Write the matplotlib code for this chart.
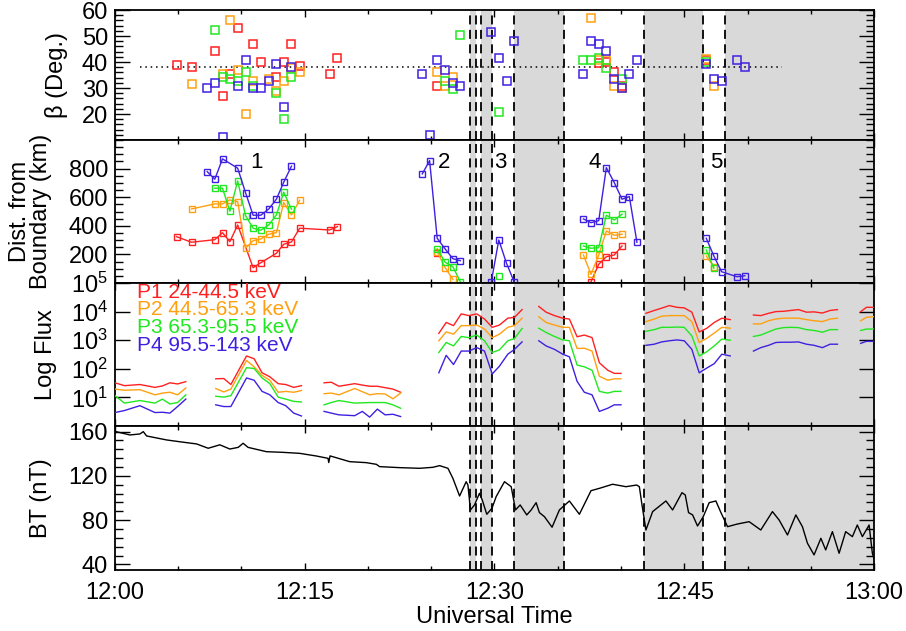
import numpy as np
import matplotlib
matplotlib.use('Agg')
import matplotlib.pyplot as plt
from matplotlib.ticker import MultipleLocator, FixedLocator, LogLocator, NullFormatter

plt.rcParams['font.family'] = ['Liberation Sans', 'DejaVu Sans']
plt.rcParams['mathtext.fontset'] = 'custom'
plt.rcParams['mathtext.rm'] = 'Liberation Sans'
plt.rcParams['mathtext.default'] = 'regular'

# time is in minutes after 12:00 UT
red, orange, green, blue = '#ff2020', '#ffa010', '#20e820', '#4020e0'

# shaded intervals and the dashed boundaries
shade_spans = [(28.08, 28.52), (28.97, 29.84), (31.58, 35.5), (41.79, 46.52), (48.24, 60.0)]
dash_times = [28.08, 28.52, 28.97, 29.84, 31.58, 35.5, 41.79, 46.52, 48.24]

# ---- beta angle (deg) ----
beta_t_p1 = [4.87, 6.05, 7.89, 8.5, 9.08, 9.74, 10.92, 11.53, 12.76, 13.34, 13.95, 14.6, 16.97, 17.58,
             25.47, 38.24, 38.84, 39.47, 40.08, 46.74]
beta_p1 = [38.9, 38.2, 44.3, 27.0, 35.6, 53.3, 47.0, 39.9, 34.4, 40.0, 47.0, 38.5, 35.4, 41.7,
           30.9, 39.5, 40.1, 36.3, 30.8, 40.8]
beta_t_p2 = [6.05, 8.5, 9.08, 9.74, 10.32, 10.92, 12.16, 12.76, 13.34, 13.95, 14.6, 25.47, 26.05, 26.71,
             37.63, 38.24, 38.84, 39.47, 40.08, 46.74, 47.34]
beta_p2 = [31.7, 35.4, 56.2, 36.9, 20.0, 32.8, 33.5, 29.0, 32.8, 37.6, 36.3, 36.3, 30.8, 34.4,
           57.0, 40.8, 40.8, 30.8, 30.2, 41.3, 30.8]
beta_t_p3 = [7.89, 8.5, 9.08, 9.74, 10.32, 10.92, 12.76, 13.34, 13.95, 26.05, 26.71, 27.29, 30.34,
             37.03, 37.63, 38.24, 38.84, 40.08, 46.74]
beta_p3 = [52.4, 34.4, 33.5, 32.8, 36.3, 30.9, 28.2, 18.2, 34.4, 32.8, 29.5, 50.6, 20.9,
           40.8, 40.8, 41.7, 37.8, 33.5, 40.1]
beta_t_p4 = [7.29, 7.89, 8.5, 9.74, 10.32, 10.92, 11.53, 12.16, 12.76, 13.34, 13.95, 24.29, 24.87, 25.47,
             26.1, 26.71, 27.3, 29.74, 30.34, 30.95, 31.55, 37.03, 37.63, 38.24, 38.84, 39.47, 40.08,
             40.66, 41.26, 46.74, 47.34, 47.95, 49.16, 49.79]
beta_p4 = [29.9, 31.8, 11.2, 30.8, 40.8, 29.9, 29.9, 32.8, 39.1, 22.7, 38.2, 35.4, 11.8, 40.8,
           37.0, 31.8, 30.8, 51.7, 41.7, 32.7, 48.0, 35.4, 48.0, 47.0, 44.3, 33.5, 29.9,
           35.4, 40.8, 39.1, 33.6, 32.7, 40.8, 38.0]
beta_mean = 38.3
beta_mean_range = [2.0, 52.7]

# ---- distance from boundary (km), nan separates the events ----
nan = np.nan
dist_t_p1 = [4.87, 6.05, 7.89, 8.5, 9.08, 9.7, 10.92, 11.53, 12.76, 13.34, 13.95, 14.6, 16.97, 17.58, nan,
             25.47, nan, 37.63, 38.24, 38.84, 39.47, 40.08]
dist_p1 = [324, 285, 303, 352, 289, 406, 107, 142, 208, 271, 287, 383, 371, 394, nan,
           208, nan, 9, 131, 184, 196, 259]
dist_t_p2 = [6.05, 7.89, 8.5, 9.08, 9.7, 10.32, 10.92, 11.53, 12.16, 12.76, 13.34, 13.95, 14.6, nan,
             25.47, 26.1, 26.71, nan, 37.03, 37.63, 38.24, 38.84, 39.47, 40.08, nan, 46.74, 47.34]
dist_p2 = [518, 553, 553, 581, 569, 243, 296, 308, 341, 352, 562, 476, 579, nan,
           220, 107, 26, nan, 196, 61, 196, 364, 334, 341, nan, 189, 113]
dist_t_p3 = [7.89, 8.5, 9.08, 9.7, 10.32, 10.92, 11.53, 12.16, 12.76, 13.34, 13.95, nan,
             25.47, 26.1, 26.71, 27.3, nan, 30.34, nan, 37.03, 37.63, 38.24, 38.84, 39.47, 40.08, nan,
             46.74, 47.34]
dist_p3 = [663, 663, 502, 714, 471, 383, 369, 406, 476, 635, 516, nan,
           238, 145, 114, 9, nan, 49, nan, 259, 243, 247, 474, 441, 481, nan,
           231, 103]
dist_t_p4 = [7.29, 7.89, 8.5, 9.7, 10.32, 10.92, 11.53, 12.16, 12.76, 13.34, 13.95, nan,
             24.29, 24.87, 25.47, 26.1, 26.71, 27.3, nan, 29.74, 30.34, 30.95, 31.55, nan,
             37.03, 37.63, 38.24, 38.84, 39.47, 40.08, 40.66, 41.26, nan,
             46.74, 47.34, 47.95, 49.16, 49.79]
dist_p4 = [779, 726, 868, 803, 632, 474, 474, 518, 586, 705, 817, nan,
           763, 856, 313, 238, 170, 156, nan, 5, 301, 138, 9, nan,
           448, 422, 436, 807, 702, 586, 604, 285, nan,
           313, 189, 79, 44, 51]
event_t = [11.19, 26.0, 30.45, 37.9, 47.5]
event_names = ['1', '2', '3', '4', '5']
event_y = 840

# ---- log10 of flux, one block per data segment ----
flux_t = [
    [0.0, 0.75, 1.97, 3.16, 3.75, 4.34, 4.95, 5.6],
    [7.97, 8.6, 9.16, 10.4, 11.0, 11.63, 12.24, 12.9, 13.5, 14.13, 14.74],
    [16.53, 17.1, 17.7, 18.95, 19.55, 20.13, 20.74, 21.35, 21.97, 22.58],
    [25.6, 26.18, 26.76, 27.37, 27.97, 28.6, 29.21, 29.82, 30.39, 31.05, 31.58, 32.18],
    [33.5, 34.08, 34.74, 35.4, 35.92, 36.53, 37.1, 37.71, 38.29, 38.95, 39.47, 40.0],
    [41.97, 42.63, 43.21, 43.82, 44.42, 45.0, 45.6, 46.18, 46.76, 47.37, 47.97, 48.63],
    [50.47, 51.05, 51.66, 52.24, 52.84, 53.42, 54.03, 54.66, 55.27, 55.92, 56.53, 57.11],
    [58.95, 59.4, 59.95],
]
logflux_p1 = [
    [1.51, 1.41, 1.45, 1.35, 1.40, 1.51, 1.47, 1.55],
    [1.65, 1.66, 1.45, 2.45, 2.35, 1.86, 1.72, 1.48, 1.45, 1.35, 1.41],
    [1.51, 1.53, 1.39, 1.48, 1.43, 1.39, 1.39, 1.34, 1.29, 1.18],
    [3.24, 3.62, 3.51, 3.92, 3.86, 3.92, 3.74, 3.45, 3.53, 3.77, 3.80, 4.07],
    [4.18, 3.98, 3.86, 3.77, 3.74, 3.12, 3.18, 3.09, 2.21, 1.95, 1.84, 1.84],
    [3.94, 4.04, 4.12, 4.21, 4.15, 4.13, 3.98, 3.29, 3.41, 3.62, 3.77, 3.72],
    [3.88, 3.86, 3.94, 4.00, 4.01, 4.04, 4.07, 3.98, 3.99, 3.95, 4.04, 4.07],
    [4.00, 4.15, 4.15],
]
logflux_p2 = [
    [1.29, 1.25, 1.27, 1.09, 1.15, 1.18, 1.09, 1.33],
    [1.31, 1.19, 1.29, 2.29, 2.07, 1.77, 1.60, 1.18, 1.21, 1.18, 1.24],
    [1.13, 1.15, 1.09, 1.31, 1.20, 1.09, 1.13, 1.12, 0.95, 1.15],
    [2.98, 3.29, 3.21, 3.51, 3.51, 3.53, 3.39, 3.09, 3.21, 3.45, 3.51, 3.77],
    [3.82, 3.62, 3.53, 3.45, 3.45, 2.71, 2.72, 2.62, 1.74, 1.60, 1.65, 1.65],
    [3.65, 3.74, 3.84, 3.86, 3.86, 3.86, 3.65, 2.92, 3.06, 3.25, 3.45, 3.42],
    [3.57, 3.57, 3.68, 3.74, 3.77, 3.77, 3.77, 3.72, 3.68, 3.65, 3.74, 3.77],
    [3.68, 3.80, 3.82],
]
logflux_p3 = [
    [1.06, 0.80, 0.89, 0.80, 0.94, 0.77, 0.82, 1.09],
    [1.04, 1.01, 1.06, 2.04, 2.01, 1.68, 1.48, 1.01, 0.94, 0.86, 0.84],
    [0.74, 0.82, 0.89, 0.80, 0.81, 0.82, 0.82, 0.82, 0.74, 0.62],
    [2.57, 2.92, 2.80, 3.13, 3.09, 3.18, 2.98, 2.57, 2.66, 2.98, 3.06, 3.41],
    [3.42, 3.27, 3.13, 3.01, 2.98, 2.13, 2.07, 1.95, 1.21, 1.15, 1.21, 1.21],
    [3.31, 3.37, 3.45, 3.45, 3.46, 3.45, 3.15, 2.45, 2.59, 2.80, 3.04, 3.00],
    [3.13, 3.18, 3.29, 3.39, 3.44, 3.45, 3.44, 3.37, 3.34, 3.28, 3.37, 3.37],
    [3.34, 3.39, 3.39],
]
logflux_p4 = [
    [0.47, 0.54, 0.71, 0.47, 0.48, 0.45, 0.68, 0.94],
    [0.74, 0.68, 0.68, 1.68, 1.60, 1.21, 1.09, 0.82, 0.71, 0.45, 0.35],
    [0.51, 0.45, 0.39, 0.36, 0.51, 0.31, 0.59, 0.39, 0.41, 0.33],
    [1.86, 2.47, 2.15, 2.62, 2.62, 2.74, 2.62, 1.82, 2.09, 2.51, 2.68, 2.94],
    [2.98, 2.80, 2.68, 2.51, 2.42, 1.56, 1.18, 1.09, 0.51, 0.62, 0.74, 0.74],
    [2.82, 2.86, 2.94, 2.98, 3.01, 2.98, 2.68, 1.86, 2.02, 2.18, 2.51, 2.45],
    [2.62, 2.74, 2.82, 2.92, 2.93, 2.93, 2.94, 2.86, 2.82, 2.74, 2.86, 2.86],
    [2.89, 2.96, 2.96],
]
channel_labels = ['P1 24-44.5 keV', 'P2 44.5-65.3 keV', 'P3 65.3-95.5 keV', 'P4 95.5-143 keV']

# ---- total field (nT) ----
bt_t = [0.08, 1.18, 1.97, 2.24, 2.5, 4.08, 5.3, 6.45, 7.37, 8.29, 9.08, 9.74, 10.13, 10.52, 11.97,
        13.29, 14.6, 15.92, 16.84, 16.9, 17.0, 18.55, 19.87, 20.66, 20.92, 22.5, 24.08, 25.13, 25.66,
        26.32, 26.71, 27.24, 27.76, 27.9, 28.1, 28.42, 28.81, 29.03, 29.39, 29.8, 30.13, 30.79, 31.32,
        31.66, 32.03, 32.55, 32.9, 33.29, 33.55, 33.95, 34.55, 35.13, 35.92, 36.71, 37.63, 38.29,
        39.34, 40.39, 41.24, 41.45, 41.66, 41.97, 42.5, 43.55, 44.08, 44.82, 45.08, 45.34, 45.66,
        46.05, 46.5, 46.97, 47.5, 47.9, 48.42, 49.2, 50.13, 51.05, 51.97, 52.5, 53.16, 53.82, 54.34,
        54.74, 55.26, 55.8, 56.18, 56.71, 57.24, 57.76, 58.29, 58.68, 59.08, 59.61, 59.87, 60.0]
bt = [159.9, 156.9, 157.8, 159.9, 156.0, 152.4, 150.5, 148.8, 144.9, 148.0, 144.2, 145.7, 149.4, 145.7,
      141.8, 141.2, 140.3, 137.9, 135.8, 132.0, 138.0, 132.8, 131.9, 130.4, 128.3, 127.4, 126.8, 127.7,
      129.2, 126.8, 117.8, 101.8, 114.7, 111.7, 89.2, 93.7, 104.2, 98.2, 85.3, 90.7, 101.2, 114.7,
      110.2, 89.2, 93.7, 84.7, 89.2, 95.8, 86.8, 83.1, 73.6, 89.2, 97.3, 85.3, 106.6, 108.7, 112.4,
      110.2, 111.7, 110.2, 93.7, 71.1, 87.7, 97.3, 89.2, 104.8, 102.7, 86.8, 84.7, 74.7, 83.1, 95.8,
      97.3, 86.8, 74.1, 76.5, 78.6, 71.1, 87.7, 80.1, 66.6, 84.7, 74.1, 59.1, 48.6, 63.6, 53.1, 69.6,
      50.1, 69.6, 65.1, 75.6, 65.1, 75.6, 50.1, 45.0]

time_ticks = [0, 15, 30, 45, 60]
time_labels = ['12:00', '12:15', '12:30', '12:45', '13:00']


def style_axis(ax):
    for sp in ax.spines.values():
        sp.set_linewidth(1.3)
    ax.set_xlim(0, 60)
    ax.xaxis.set_major_locator(FixedLocator(time_ticks))
    ax.xaxis.set_minor_locator(MultipleLocator(5))
    ax.tick_params(axis='x', which='major', direction='in', top=True, bottom=True, length=5,
                   width=1, labelsize=17, pad=9)
    ax.tick_params(axis='x', which='minor', direction='in', top=True, bottom=True, length=3, width=1)
    ax.tick_params(axis='y', which='major', direction='in', left=True, right=True, length=11,
                   width=1, labelsize=17, pad=5)
    ax.tick_params(axis='y', which='minor', direction='in', left=True, right=True, length=5.5, width=1)
    for a, b in shade_spans:
        ax.axvspan(a, b, color='#d9d9d9', lw=0, zorder=0)
    for tt in dash_times:
        ax.axvline(tt, color='k', lw=1.3, ls=(0, (5, 3)), zorder=1)


def draw_figure():
    fig = plt.figure(figsize=(9.06, 6.31), dpi=100)
    left, width = 0.1269, 0.8378
    ax1 = fig.add_axes([left, 0.778, width, 0.206])
    ax2 = fig.add_axes([left, 0.5515, width, 0.2266])
    ax3 = fig.add_axes([left, 0.3249, width, 0.2266])
    ax4 = fig.add_axes([left, 0.0967, width, 0.2282])

    # Panel 1: beta angle
    mk = dict(marker='s', ls='none', mfc='none', ms=6, mew=1.1, zorder=3)
    ax1.plot(beta_t_p1, beta_p1, color=red, **mk)
    ax1.plot(beta_t_p2, beta_p2, color=orange, **mk)
    ax1.plot(beta_t_p3, beta_p3, color=green, **mk)
    ax1.plot(beta_t_p4, beta_p4, color=blue, **mk)
    ax1.plot(beta_mean_range, [beta_mean, beta_mean], color='k', ls=(0, (1, 2.5)), lw=1.1, zorder=2)
    style_axis(ax1)
    ax1.set_ylim(10, 60)
    ax1.set_yticks([20, 30, 40, 50, 60])
    ax1.yaxis.set_minor_locator(MultipleLocator(2))
    ax1.set_xticklabels([])
    ax1.set_ylabel('\u03b2 (Deg.)', fontsize=17)
    ax1.yaxis.set_label_coords(-0.062, 0.5)

    # Panel 2: distance from the boundary
    lk = dict(marker='s', mfc='none', ms=5, mew=1.0, lw=1.0, zorder=3)
    ax2.plot(dist_t_p1, dist_p1, color=red, **lk)
    ax2.plot(dist_t_p2, dist_p2, color=orange, **lk)
    ax2.plot(dist_t_p3, dist_p3, color=green, **lk)
    ax2.plot(dist_t_p4, dist_p4, color=blue, **lk)
    for tt, name in zip(event_t, event_names):
        ax2.text(tt, event_y, name, fontsize=16, ha='center', va='center', zorder=4)
    style_axis(ax2)
    ax2.set_ylim(0, 1000)
    ax2.set_yticks([200, 400, 600, 800])
    ax2.yaxis.set_minor_locator(MultipleLocator(50))
    ax2.set_xticklabels([])
    ax2.set_ylabel('Dist. from\nBoundary (km)', fontsize=17, linespacing=0.95)
    ax2.yaxis.set_label_coords(-0.083, 0.5)

    # Panel 3: flux in four channels
    for vals, col in zip([logflux_p1, logflux_p2, logflux_p3, logflux_p4], [red, orange, green, blue]):
        for tseg, vseg in zip(flux_t, vals):
            ax3.plot(tseg, 10 ** np.array(vseg), color=col, lw=1.0, zorder=3)
    for i, (lab, col) in enumerate(zip(channel_labels, [red, orange, green, blue])):
        ax3.text(0.0286, 0.937 - 0.125 * i, lab, color=col, fontsize=15, transform=ax3.transAxes,
                 ha='left', va='center', zorder=4)
    style_axis(ax3)
    ax3.set_yscale('log')
    ax3.set_ylim(1, 1e5)
    ax3.yaxis.set_major_locator(FixedLocator([1, 1e1, 1e2, 1e3, 1e4, 1e5]))
    ax3.set_yticklabels(['', r'$10^{1}$', r'$10^{2}$', r'$10^{3}$', r'$10^{4}$', r'$10^{5}$'])
    ax3.yaxis.set_minor_locator(LogLocator(base=10, subs=np.arange(2, 10)))
    ax3.yaxis.set_minor_formatter(NullFormatter())
    ax3.set_xticklabels([])
    ax3.set_ylabel('Log Flux', fontsize=17)
    ax3.yaxis.set_label_coords(-0.076, 0.5)

    # Panel 4: total magnetic field
    ax4.plot(bt_t, bt, color='k', lw=1.0, zorder=3)
    style_axis(ax4)
    ax4.set_ylim(35, 165)
    ax4.set_yticks([40, 80, 120, 160])
    ax4.yaxis.set_minor_locator(MultipleLocator(8))
    ax4.set_xticklabels(time_labels)
    ax4.set_ylabel('BT (nT)', fontsize=17)
    ax4.yaxis.set_label_coords(-0.083, 0.5)
    ax4.set_xlabel('Universal Time', fontsize=17, labelpad=1)

    fig.savefig('out.png', dpi=100)


if __name__ == '__main__':
    draw_figure()
